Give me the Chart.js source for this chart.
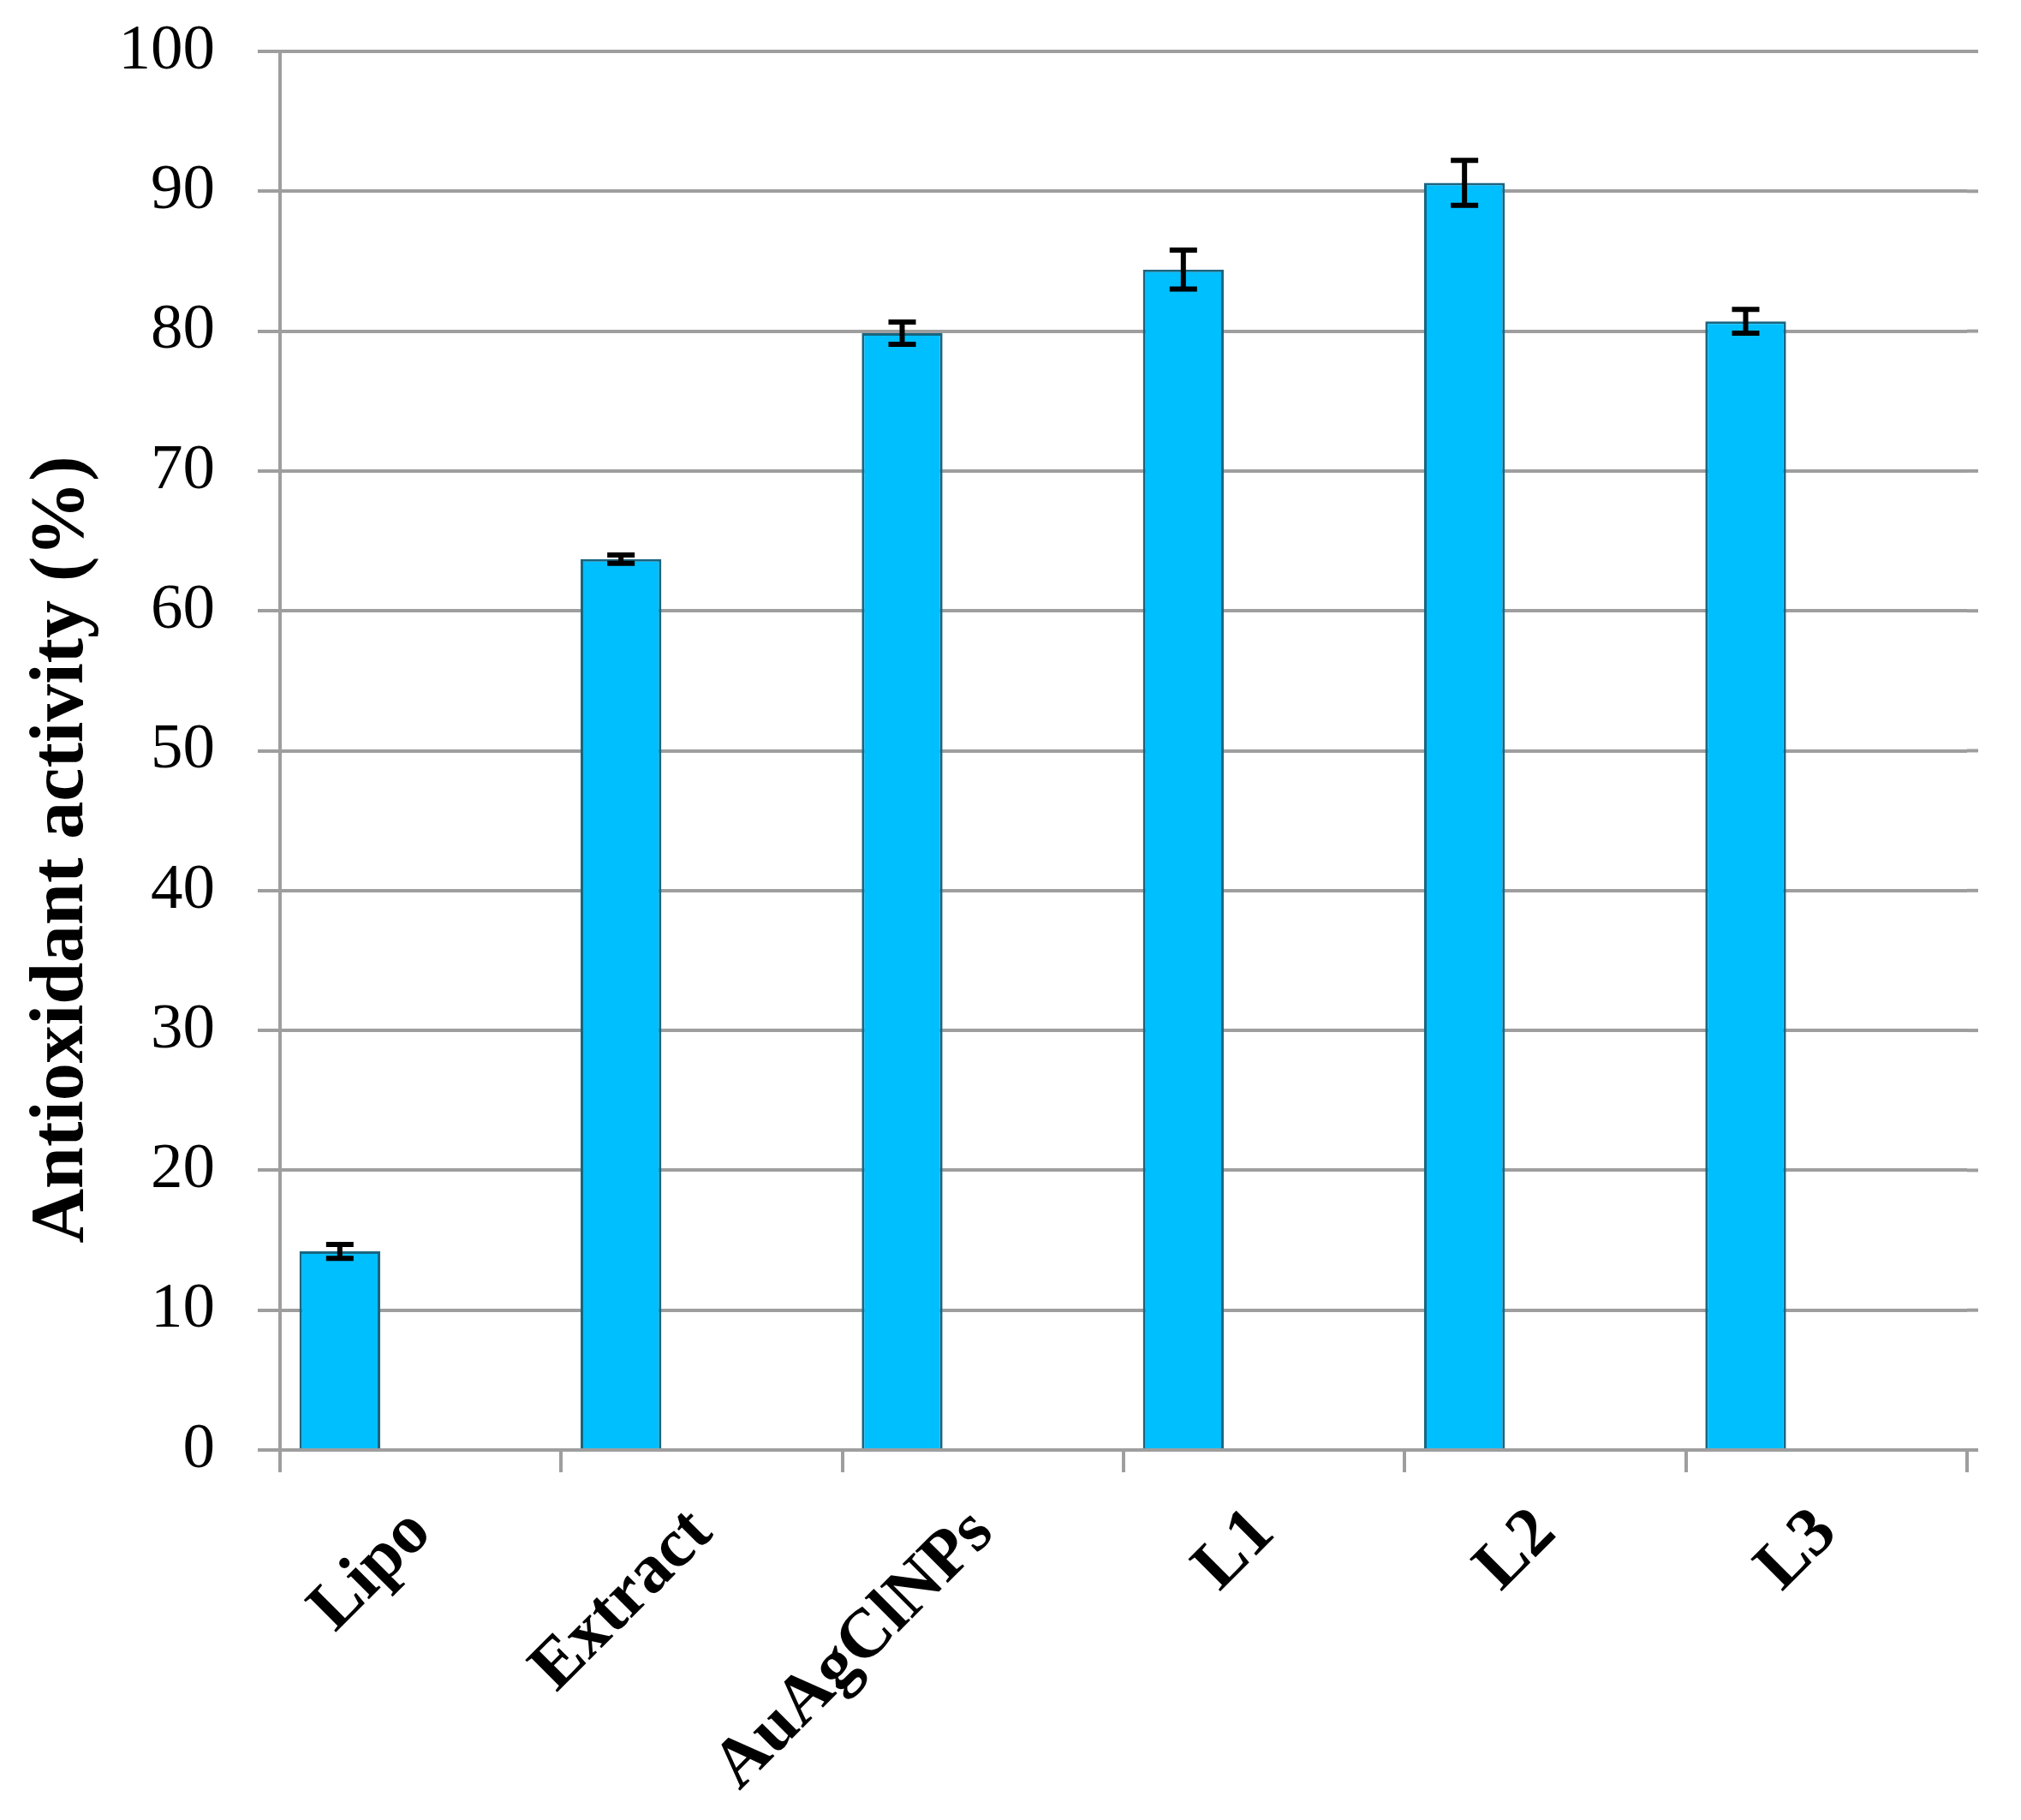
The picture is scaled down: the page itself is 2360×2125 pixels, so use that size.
<!DOCTYPE html>
<html lang="en">
<head>
    <meta charset="UTF-8">
    <title>Antioxidant activity</title>
    <style>
        body { margin: 0; background: #fff; }
        .chart-box { width: 2360px; height: 2125px; position: relative; }
    </style>
</head>
<body>
    <div class="chart-box">
        <canvas id="activityChart"></canvas>
    </div>

    <script src="https://cdn.jsdelivr.net/npm/chart.js"></script>
    <script>
// data
const categories = ["Lipo", "Extract", "AuAgClNPs", "L1", "L2", "L3"];
const activity = [14.2, 63.7, 79.85, 84.4, 90.6, 80.7];
const errors = [0.5, 0.3, 0.8, 1.4, 1.6, 0.85];
const yTicks = [0, 10, 20, 30, 40, 50, 60, 70, 80, 90, 100];
const yTitle = 'Antioxidant activity (%)';

const serif = "'Liberation Serif', 'Times New Roman', serif";
const gridGray = '#9e9e9e';

// error bars drawn on top of the first dataset
const errorBars = {
    id: 'errorBars',
    afterDatasetsDraw(chart) {
        const meta = chart.getDatasetMeta(0);
        const y = chart.scales.y;
        const ctx = chart.ctx;
        ctx.save();
        ctx.strokeStyle = '#000';
        ctx.lineWidth = 6;
        meta.data.forEach((bar, i) => {
            const top = y.getPixelForValue(activity[i] + errors[i]);
            const bot = y.getPixelForValue(activity[i] - errors[i]);
            const half = 16;
            ctx.beginPath();
            ctx.moveTo(bar.x, top);
            ctx.lineTo(bar.x, bot);
            ctx.moveTo(bar.x - half, top);
            ctx.lineTo(bar.x + half, top);
            ctx.moveTo(bar.x - half, bot);
            ctx.lineTo(bar.x + half, bot);
            ctx.stroke();
        });
        ctx.restore();
    }
};

// gridlines run a little past the last category tick, and the axis title sits low (as in Excel)
const extras = {
    id: 'extras',
    beforeDatasetsDraw(chart) {
        const { ctx, chartArea, scales } = chart;
        ctx.save();
        ctx.strokeStyle = gridGray;
        ctx.lineWidth = 4;
        yTicks.forEach(v => {
            const py = scales.y.getPixelForValue(v);
            ctx.beginPath();
            ctx.moveTo(chartArea.right, py);
            ctx.lineTo(chartArea.right + 13, py);
            ctx.stroke();
        });
        ctx.restore();
    },
    afterDraw(chart) {
        const { ctx, chartArea } = chart;
        ctx.save();
        ctx.translate(73, chartArea.bottom - 701);
        ctx.rotate(-Math.PI / 2);
        ctx.fillStyle = '#000';
        ctx.font = "bold 88px " + serif;
        ctx.textAlign = 'center';
        ctx.textBaseline = 'middle';
        ctx.fillText(yTitle, 0, 0);
        ctx.restore();
    }
};

new Chart(document.getElementById("activityChart"), {
    type: "bar",
    data: {
        labels: categories,
        datasets: [
            {
                data: activity,
                backgroundColor: '#00bfff',
                borderColor: '#1a6580',
                borderWidth: 3
            },
            // two empty series keep the bars on the left side of each slot, like the original
            { data: categories.map(() => null) },
            { data: categories.map(() => null) }
        ]
    },
    options: {
        responsive: true,
        maintainAspectRatio: false,
        animation: false,
        categoryPercentage: 0.862,
        barPercentage: 1.0,
        layout: {
            padding: { top: 60, right: 63, left: 0, bottom: 0 }
        },
        scales: {
            x: {
                grid: {
                    offset: true,
                    drawOnChartArea: false,
                    color: gridGray,
                    lineWidth: 4,
                    tickLength: 26
                },
                border: { color: gridGray, width: 4 },
                ticks: {
                    color: '#000',
                    font: { family: serif, size: 81, weight: 'bold' },
                    minRotation: 45,
                    maxRotation: 45,
                    padding: 24
                },
                afterFit(scale) {
                    scale.height = 2125 - 1693;
                    scale.paddingLeft = 0;
                    scale.paddingRight = 0;
                }
            },
            y: {
                min: 0,
                max: 100,
                afterBuildTicks(scale) {
                    scale.ticks = yTicks.map(v => ({ value: v }));
                },
                grid: {
                    color: gridGray,
                    lineWidth: 4,
                    tickLength: 26
                },
                border: { color: gridGray, width: 4 },
                ticks: {
                    color: '#000',
                    font: { family: serif, size: 75 },
                    padding: 50
                },
                afterFit(scale) {
                    scale.width = 327;
                    scale.paddingTop = 0;
                    scale.paddingBottom = 0;
                }
            }
        },
        plugins: {
            legend: { display: false },
            tooltip: { enabled: false }
        }
    },
    plugins: [errorBars, extras]
});
    </script>
</body>
</html>
